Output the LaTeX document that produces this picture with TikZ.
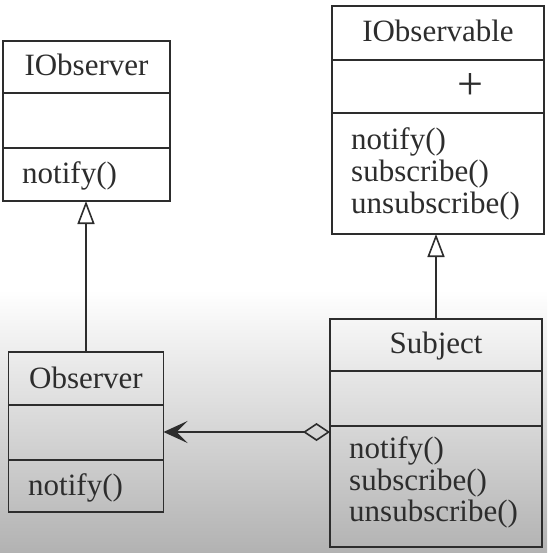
\documentclass[tikz,border=0pt]{standalone}
\usepackage{fontspec}
\setmainfont{Liberation Serif}
\newfontfamily\umlfont{Liberation Serif}
\usetikzlibrary{arrows.meta}
\definecolor{ink}{RGB}{45,45,45}
\definecolor{bgbottom}{RGB}{178,178,178}
\tikzset{
  classbox/.style={draw=ink, line width=1.6pt, rectangle, inner sep=0pt, outer sep=0pt},
  divider/.style={draw=ink, line width=1.6pt},
  title/.style={anchor=base, inner sep=0pt, text=ink, font=\umlfont\fontsize{31}{31}\selectfont},
  member/.style={anchor=base west, inner sep=0pt, text=ink, font=\umlfont\fontsize{31}{31}\selectfont},
  inherit/.style={draw=ink, line width=1.6pt, -{Triangle[open, length=23pt, width=17pt, line width=1.6pt]}},
  aggr/.style={draw=ink, line width=1.6pt, {Stealth[length=24pt, width=22pt, inset=11pt]}-{Diamond[open, length=27pt, width=18pt, line width=1.6pt]}}
}
\begin{document}
\begin{tikzpicture}[x=1pt, y=-1pt]
\useasboundingbox (0,0) rectangle (547,553);
\fill[white] (0,0) rectangle (547,292);
\shade[top color=white, bottom color=bgbottom] (0,290) rectangle (547,553);

% IObserver
\node[classbox, minimum width=167pt, minimum height=160pt] (iobserver) at (86.5,121) {};
\draw[divider] (iobserver.west |- 0,93) -- (iobserver.east |- 0,93);
\draw[divider] (iobserver.west |- 0,148) -- (iobserver.east |- 0,148);
\node[title] (iobserverT) at (86.5,76) {IObserver};
\node[member] (iobserverM1) at (22,183) {notify()};

% IObservable
\node[classbox, minimum width=212pt, minimum height=228pt] (iobservable) at (438,120) {};
\draw[divider] (iobservable.west |- 0,60) -- (iobservable.east |- 0,60);
\draw[divider] (iobservable.west |- 0,113) -- (iobservable.east |- 0,113);
\node[title] (iobservableT) at (438,42) {IObservable};
\node[title, anchor=center, font=\umlfont\fontsize{46}{46}\selectfont] (iobservableA) at (470,87) {+};
\node[member] (iobservableM1) at (351,150) {notify()};
\node[member] (iobservableM2) at (351,182) {subscribe()};
\node[member] (iobservableM3) at (351,213) {unsubscribe()};

% Observer
\node[classbox, minimum width=155pt, minimum height=160pt] (observer) at (86,432) {};
\draw[divider] (observer.west |- 0,405) -- (observer.east |- 0,405);
\draw[divider] (observer.west |- 0,460) -- (observer.east |- 0,460);
\node[title] (observerT) at (86,388) {Observer};
\node[member] (observerM1) at (28,495) {notify()};

% Subject
\node[classbox, minimum width=212pt, minimum height=228pt] (subject) at (436,433) {};
\draw[divider] (subject.west |- 0,371) -- (subject.east |- 0,371);
\draw[divider] (subject.west |- 0,426) -- (subject.east |- 0,426);
\node[title] (subjectT) at (436,353) {Subject};
\node[member] (subjectM1) at (349,458) {notify()};
\node[member] (subjectM2) at (349,490) {subscribe()};
\node[member] (subjectM3) at (349,521) {unsubscribe()};

% connectors
\draw[inherit] (observer.north) -- (observer.north |- iobserver.south);
\draw[inherit] (subject.north) -- (subject.north |- iobservable.south);
\draw[aggr] (observer.east) -- (subject.west |- observer.east);
\end{tikzpicture}
\end{document}
